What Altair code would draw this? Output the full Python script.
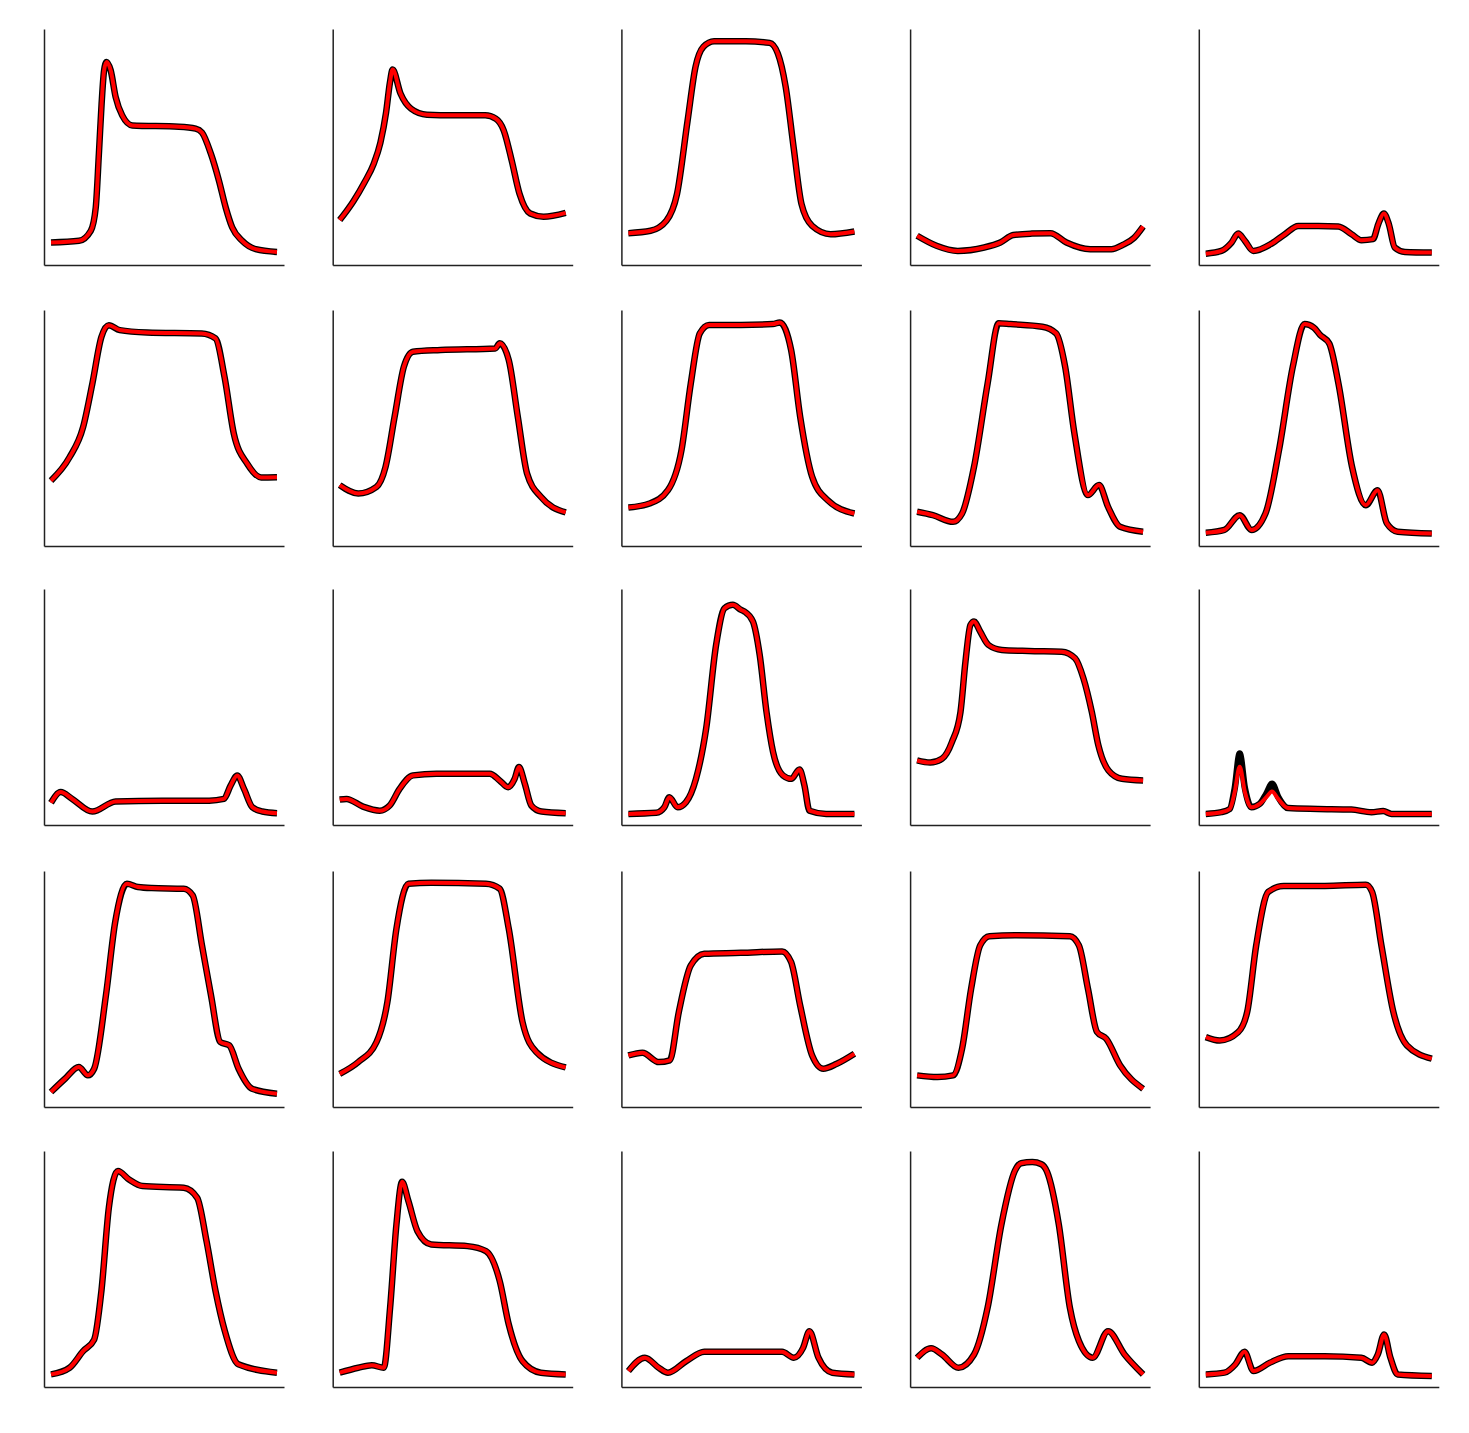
import altair as alt
import pandas as pd

# ---- data (x: 0..100 along each trace, y: 0..100 relative signal) ----
x1 = [0, 12.4, 17.6, 19.8, 21.2, 22.4, 23.5, 24.6, 26.4, 28.6, 31.5, 36, 56.6, 64, 66.8, 70.7, 74.3, 77.3, 80.2, 84.6, 90.6, 100]
y1 = [5.3, 6.1, 10.8, 21.7, 47, 70.4, 85.9, 89.8, 85.9, 73.4, 64.8, 60.1, 59.5, 58.6, 56.8, 47, 34.3, 21.7, 12.3, 6.1, 2.2, 0.9]

x2 = [0, 6, 11, 15, 18, 20.5, 22.2, 23.4, 26.9, 31.6, 38.6, 50.4, 64.4, 69.1, 72.6, 76.1, 79.6, 84.3, 90.2, 100]
y2 = [15.8, 24.5, 33.5, 42, 52, 66, 80, 86.2, 75, 67.9, 65.1, 64.8, 64.8, 63.2, 57.7, 43.7, 28, 18.9, 17.4, 19.2]

x3 = [0, 9.8, 16.8, 21.5, 26.2, 29.7, 33.2, 37.9, 52, 62.5, 66.1, 69.6, 73.1, 76.6, 81.3, 89.5, 100]
y3 = [9.7, 10.8, 15.5, 28, 62.4, 87.5, 96.9, 99.5, 99.5, 98.7, 93.8, 78.1, 49.9, 23.3, 13.1, 9.2, 10.5]

x4 = [0, 8.6, 18, 29.7, 36.8, 42.6, 50.8, 59, 66.1, 76.6, 86, 91, 96, 100]
y4 = [8.5, 3.8, 1.4, 3, 5.3, 8.8, 9.5, 9.7, 5.3, 2.2, 2.2, 4.2, 7.5, 12.8]

x5 = [0, 6.9, 11.4, 14.3, 17.3, 21, 29.1, 35, 40.9, 49.8, 58.6, 64.5, 68.9, 74, 76.3, 78.8, 81, 83.6, 88.1, 100]
y5 = [0.1, 1.4, 5.3, 9.5, 6.1, 1.4, 4.8, 9.2, 13.1, 13.1, 12.8, 9.2, 6.4, 6.9, 13.9, 18.9, 13.9, 3, 0.9, 0.6]

x6 = [0, 8.2, 14.2, 18.3, 22.3, 25.6, 30.4, 42.5, 66.7, 72.8, 76.8, 80.9, 86.9, 93, 100]
y6 = [25.4, 36.3, 50.4, 70.8, 92.6, 98.1, 95.8, 94.7, 94.2, 91.9, 73.8, 47.3, 33.2, 26.9, 27]

x7 = [0, 8.2, 16.3, 20.3, 24.3, 28.4, 32.4, 44.6, 68.8, 70.8, 74.8, 78.8, 82.9, 89, 100]
y7 = [23.3, 19.4, 22.5, 31.9, 55.3, 78.7, 85.7, 86.5, 87.2, 89.6, 81.8, 55.3, 28.7, 17.8, 10.5]

x8 = [0, 9.4, 17.5, 23.5, 27.6, 31.6, 35.7, 49.8, 63.9, 67, 72, 76, 81.3, 88.1, 100]
y8 = [12.8, 14.7, 20.9, 39.7, 70.8, 94.3, 98.2, 98.2, 98.6, 99.4, 86.5, 55.3, 27.2, 16.3, 10]

x9 = [0, 7, 15.9, 19.9, 25.2, 31.2, 36.1, 41.3, 55.4, 61.5, 65.5, 69.6, 75.6, 80.5, 84.5, 89.8, 100]
y9 = [10.8, 9.2, 6.1, 10, 31.9, 70.8, 99, 98.6, 97.4, 94.3, 78.7, 47.5, 18.6, 23.3, 13.1, 3.8, 1.5]

x10 = [0, 8.2, 15, 20.3, 26.4, 32.4, 38.5, 43.7, 47.8, 50.6, 54.6, 58.7, 64.7, 70.8, 76, 80.1, 84.9, 100]
y10 = [1, 2.3, 9.2, 2.3, 10, 39.7, 78.7, 98.6, 97, 93.5, 89.6, 70.8, 31.9, 13.9, 20.9, 5.4, 1.5, 0.7]

x11 = [0, 4.3, 9.4, 18.3, 28.6, 49.2, 70, 76.5, 79.5, 82.4, 85.4, 89.1, 93.5, 100]
y11 = [5.2, 10.2, 7, 1.1, 5.8, 6.2, 6.2, 7, 13.3, 18, 11.7, 3.1, 1.1, 0.3]

x12 = [0, 3, 10.3, 17.7, 22.1, 26.5, 32.4, 42.8, 66.4, 70.8, 74.5, 77.4, 79.3, 81.9, 84.8, 89.3, 100]
y12 = [6.7, 7, 3.4, 1.5, 3.9, 11.7, 18, 18.8, 18.8, 15.6, 12.5, 16.4, 21.9, 14.1, 3.9, 1.1, 0.3]

x13 = [0, 12.3, 15.9, 18.1, 21.8, 25.5, 29.9, 34.4, 38.8, 42.5, 46.2, 49.9, 51.3, 55.1, 58.1, 61.1, 64, 68.4, 72.1, 75.7, 77.9, 80.1, 87.5, 100]
y13 = [0, 0.5, 3.1, 7.8, 3.1, 5.5, 16.4, 39.9, 79, 96.2, 97.8, 95.4, 94.7, 90, 74.3, 47.7, 29, 18, 16.4, 20.8, 13.3, 1.5, 0, 0]

x14 = [0, 5.8, 11, 15.4, 19.2, 21.4, 23.6, 25.2, 27.9, 31.6, 37.5, 49.3, 64, 69.9, 73.6, 77.3, 80.2, 84.7, 90.6, 100]
y14 = [25, 24, 25.8, 33.6, 47.7, 71.2, 88.4, 90, 85.3, 79, 76.7, 76.2, 75.9, 72.8, 63.4, 47.7, 32.1, 20.3, 16.4, 15.6]

x15 = [0, 6.9, 10.6, 12.8, 15, 17.3, 20.2, 23.9, 26.8, 29.3, 32, 36.4, 49.6, 64.4, 73.3, 78.5, 82.2, 100]
y15_black = [0, 0.8, 2.3, 12, 28.2, 12, 3.1, 4.7, 9.5, 14.1, 8, 2.7, 2.3, 2, 0.8, 1.3, 0, 0]
y15_red = [0, 0.8, 2.3, 10.2, 22, 10.2, 3.1, 4.7, 7.8, 10.5, 7, 2.7, 2.3, 2, 0.8, 1.3, 0, 0]

x16 = [0, 6.2, 12.3, 16.3, 19.1, 24.3, 28.4, 33.6, 38.5, 44.6, 58.7, 62.7, 66.8, 70.8, 74.9, 78.9, 83, 89, 100]
y16 = [1.8, 8, 13.5, 9.6, 12.7, 47, 81.3, 99.2, 97.7, 97.2, 96.9, 93.8, 70.4, 47, 25.2, 23.6, 12.7, 3.3, 1]

x17 = [0, 8.2, 16.3, 21.1, 25.1, 30.4, 40.5, 64.7, 70.8, 74.8, 80.9, 87, 100]
y17 = [10.3, 15.8, 25.2, 43.9, 78.2, 99.2, 99.7, 99.2, 96.9, 78.2, 34.5, 20.5, 13.3]

x18 = [0, 6.2, 13.5, 18.3, 22.3, 27.6, 33.6, 49.8, 68, 72, 76, 81.3, 86.2, 92.2, 100]
y18 = [18.9, 20.2, 15.8, 16.6, 39.2, 61, 66.5, 66.9, 67.6, 62.6, 42.3, 18.9, 12.7, 15, 19.7]

x19 = [0, 9, 15.9, 19.9, 23.9, 27.9, 32, 43.3, 67.6, 71.6, 75.6, 79.6, 83.7, 89.8, 100]
y19 = [9.6, 8.8, 9.6, 22.1, 50.1, 70.4, 74.7, 75.1, 74.7, 70.4, 50.1, 29.9, 26.7, 14.3, 3.3]

x20 = [0, 6.2, 14.3, 18.3, 22.3, 27.6, 34.5, 52.7, 70.8, 73.6, 77.7, 83, 89, 100]
y20 = [27.5, 25.9, 29.8, 39.2, 70.4, 95.4, 98.2, 98.2, 98.8, 95.4, 70.4, 39.2, 23.6, 17.4]

x21 = [0, 8.2, 14.2, 19.1, 22.3, 25.6, 29.6, 34.5, 40.5, 58.7, 64.7, 68.8, 72.8, 76.9, 82.9, 100]
y21 = [0.7, 3.8, 11.6, 17, 39.7, 78.7, 95.8, 91.9, 88.8, 88, 83.3, 63.1, 39.7, 21, 5.4, 1.5]

x22 = [0, 8.2, 14.2, 19.5, 22.3, 25.1, 27.6, 30.4, 34.4, 40.5, 56.6, 64.7, 70.8, 74.8, 80.9, 89, 100]
y22 = [1.5, 3.8, 5, 3.8, 31.9, 70.8, 90.8, 81.8, 67.7, 61.5, 60.7, 58.4, 44.4, 24.1, 6.9, 1.5, 0.7]

x23 = [0, 7.3, 13.4, 17.5, 25.6, 33.6, 53.8, 68, 73.2, 77.3, 80.1, 84.1, 90.2, 100]
y23 = [2.3, 8.5, 3.8, 1.5, 6.9, 11.3, 11.3, 11.3, 8.5, 13.1, 20.9, 8.5, 1.5, 0.7]

x24 = [0, 6.2, 11, 18.3, 25.2, 31.2, 37.3, 43.3, 46, 51, 55, 57.5, 62.7, 67.6, 71.6, 77.7, 84.5, 91.8, 100]
y24 = [8.5, 12.9, 10, 3.8, 10, 31.9, 70.8, 96, 99.5, 100, 99, 95.5, 70.8, 31.9, 16.3, 8.5, 20.9, 10, 0.7]

x25 = [0, 8.2, 13.1, 17.1, 21.1, 28.4, 36.5, 52.6, 68.8, 73.6, 76.1, 78.9, 81.7, 84.9, 100]
y25 = [0.7, 1.5, 5.4, 11.3, 2.3, 6.2, 9.2, 9.2, 8.5, 6.2, 10, 19.4, 8.5, 0.7, 0]

panels = [
    (x1, y1, y1), (x2, y2, y2), (x3, y3, y3), (x4, y4, y4), (x5, y5, y5),
    (x6, y6, y6), (x7, y7, y7), (x8, y8, y8), (x9, y9, y9), (x10, y10, y10),
    (x11, y11, y11), (x12, y12, y12), (x13, y13, y13), (x14, y14, y14), (x15, y15_black, y15_red),
    (x16, y16, y16), (x17, y17, y17), (x18, y18, y18), (x19, y19, y19), (x20, y20, y20),
    (x21, y21, y21), (x22, y22, y22), (x23, y23, y23), (x24, y24, y24), (x25, y25, y25),
]

XS = alt.Scale(domain=[-3.1, 103.1], nice=False, zero=False)
YS = alt.Scale(domain=[-5.2, 105.2], nice=False, zero=False)
AX = alt.Axis(title=None, labels=False, ticks=False, grid=False, domain=True)


def make_panel(xs, yb, yr):
    df = pd.DataFrame({"x": xs, "black": yb, "red": yr})
    base = alt.Chart(df).encode(x=alt.X("x:Q", scale=XS, axis=AX))
    black = base.mark_line(color="#000000", strokeWidth=6.5, interpolate="monotone").encode(
        y=alt.Y("black:Q", scale=YS, axis=AX),
    )
    red = base.mark_line(color="#ff0000", strokeWidth=4, interpolate="monotone").encode(
        y=alt.Y("red:Q", scale=YS),
    )
    return alt.layer(black, red).properties(width=240, height=236)


charts = [make_panel(*p) for p in panels]
rows = [alt.hconcat(*charts[i * 5:(i + 1) * 5], spacing=36.7) for i in range(5)]

chart = (
    alt.vconcat(*rows, spacing=42)
    .properties(padding={"left": 30, "top": 20, "right": 4, "bottom": 4})
    .configure_view(stroke=None)
    .configure_axis(domainColor="#222222", domainWidth=1.5)
)

chart.save("out.html", embed_options={"renderer": "svg", "actions": False})
